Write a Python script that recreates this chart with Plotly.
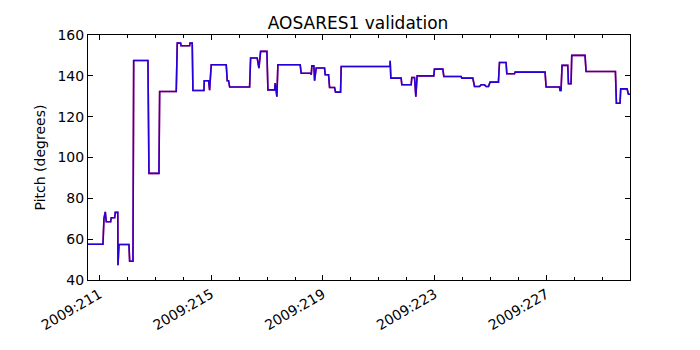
import plotly.graph_objects as go

# Time in fractional day-of-year 2009, pitch in degrees
blue_time = [210.55, 211.125, 211.161, 211.208, 211.243, 211.40, 211.42, 211.544, 211.565, 211.655,
             211.662, 211.698, 212.055, 212.08, 212.199, 212.224, 212.735, 212.771, 213.129, 213.154,
             213.748, 213.784, 213.905, 213.92, 214.227, 214.24, 214.32, 214.345, 214.739, 214.75,
             214.906, 214.942, 215.0, 215.537, 215.573, 215.62, 215.66, 216.374, 216.41, 216.646,
             216.707, 216.767, 216.993, 217.029, 217.268, 217.29, 217.35, 217.386, 218.184, 218.22,
             218.556, 218.58, 218.603, 218.674, 218.7, 218.757, 219.057, 219.079, 219.2, 219.236,
             219.415, 219.45, 219.63, 219.652, 221.40, 221.405, 221.43, 221.798, 221.823, 222.157,
             222.18, 222.277, 222.324, 222.37, 222.968, 222.99, 223.29, 223.326, 223.946, 223.97,
             224.363, 224.424, 224.603, 224.66, 224.782, 224.839, 224.925, 224.982, 225.28, 225.318,
             225.555, 225.58, 225.855, 225.877, 226.95, 226.986, 227.465, 227.487, 227.522, 227.558,
             227.762, 227.787, 227.88, 227.905, 228.381, 228.417, 229.468, 229.504, 229.633, 229.658,
             229.884, 229.934, 230.0]
blue_pitch = [57.5, 57.5, 70.2, 73.4, 68.5, 68.5, 70.5, 70.5, 73.1, 73.1,
              47.2, 57.4, 57.4, 49.2, 49.2, 147.5, 147.5, 92.2, 92.2, 132.3,
              132.3, 156.0, 156.0, 154.7, 154.7, 156.0, 156.0, 132.8, 132.8, 137.6,
              137.6, 133.0, 145.4, 145.4, 137.6, 137.6, 134.5, 134.5, 148.7, 148.7,
              143.8, 152.0, 152.0, 133.1, 133.1, 136.5, 129.8, 145.4, 145.4, 141.3,
              141.3, 140.5, 144.9, 144.9, 137.6, 143.8, 143.8, 140.5, 140.5, 134.3,
              134.3, 132.0, 132.0, 144.6, 144.6, 147.4, 138.9, 138.9, 135.6, 135.6,
              139.2, 139.2, 129.8, 140.0, 140.0, 143.3, 143.3, 139.7, 139.7, 138.9,
              138.9, 134.8, 134.8, 135.6, 135.6, 134.8, 134.8, 136.9, 136.9, 146.5,
              146.5, 141.0, 141.0, 141.8, 141.8, 134.5, 134.5, 132.8, 132.8, 145.1,
              145.1, 136.1, 136.1, 150.0, 150.0, 142.1, 142.1, 126.6, 126.6, 133.6,
              133.6, 131.0, 131.0]

red_time = list(blue_time)
red_pitch = list(blue_pitch)

tick_vals = [211, 215, 219, 223, 227]
tick_text = ["2009:211", "2009:215", "2009:219", "2009:223", "2009:227"]

fig = go.Figure()
fig.add_trace(go.Scatter(x=red_time, y=red_pitch, mode="lines",
                         line=dict(color="red", width=1.6), showlegend=False))
fig.add_trace(go.Scatter(x=blue_time, y=blue_pitch, mode="lines",
                         line=dict(color="blue", width=1.6), opacity=0.85, showlegend=False))

font = "DejaVu Sans"
fig.update_layout(
    width=700, height=350,
    margin=dict(l=88, r=70, t=35, b=70),
    paper_bgcolor="white", plot_bgcolor="white",
    font=dict(family=font, size=14, color="black"),
    title=dict(text="AOSARES1 validation", x=0.5115, xanchor="center", y=0.935, yanchor="middle",
               font=dict(family=font, size=17, color="black")),
    xaxis=dict(range=[210.589, 229.99], tickvals=tick_vals, ticktext=tick_text, tickangle=-30,
               ticks="inside", ticklen=5, tickcolor="black", showline=True, linecolor="black",
               linewidth=1, mirror="ticks", showgrid=False, zeroline=False,
               tickfont=dict(family=font, size=14),
               minor=dict(dtick=1, tick0=211, ticks="inside", ticklen=3, tickcolor="black", showgrid=False)),
    yaxis=dict(range=[40, 160], dtick=20, ticks="inside", ticklen=5, tickcolor="black",
               showline=True, linecolor="black", linewidth=1, mirror="ticks", showgrid=False,
               zeroline=False, tickfont=dict(family=font, size=14),
               title=dict(text="Pitch (degrees)", font=dict(family=font, size=14), standoff=8)),
)

fig.write_html("out.html")
